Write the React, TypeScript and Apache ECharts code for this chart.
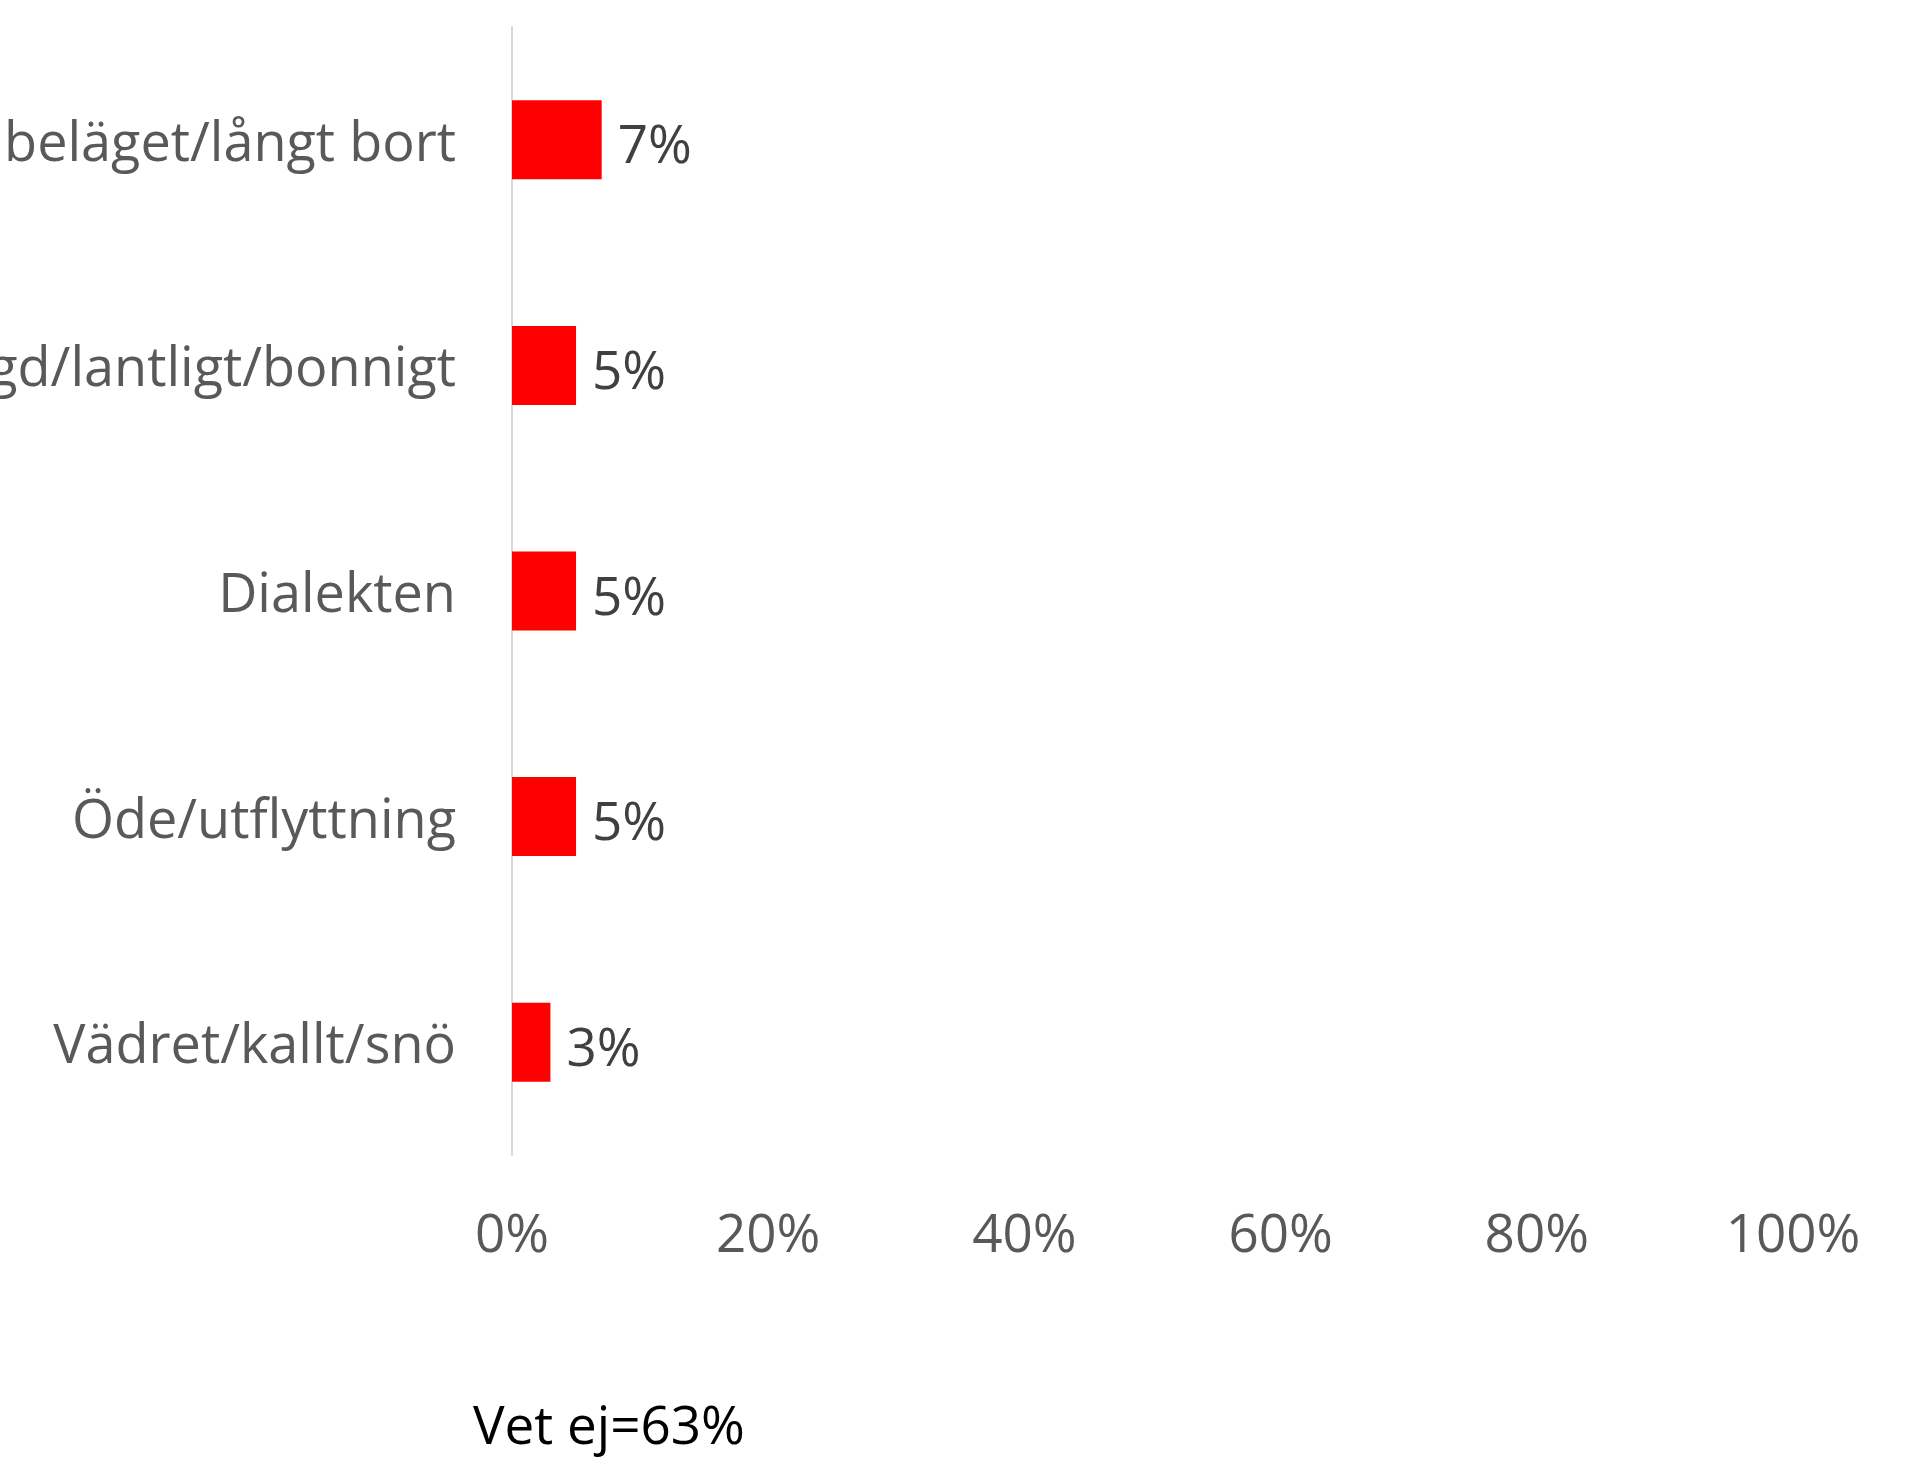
import React, { useEffect, useRef } from "react";
import * as echarts from "echarts";

const categories = [
  "Avsides beläget/långt bort",
  "Glesbygd/lantligt/bonnigt",
  "Dialekten",
  "Öde/utflyttning",
  "Vädret/kallt/snö",
];
const values = [7, 5, 5, 5, 3];
const xTicks = [0, 20, 40, 60, 80, 100];
const footnote = "Vet ej=63%";

const FONT = "'Open Sans', 'Noto Sans', sans-serif";

export default function App() {
  const ref = useRef<HTMLDivElement>(null);
  useEffect(() => {
    if (!ref.current) return;
    const chart = echarts.init(ref.current, null, { renderer: "svg" });
    chart.setOption({
      animation: false,
      backgroundColor: "#ffffff",
      grid: {
        left: 512,
        right: 118,
        top: 27,
        bottom: 306,
        containLabel: false,
        outerBoundsMode: "none",
      },
      xAxis: {
        type: "value",
        min: xTicks[0],
        max: xTicks[xTicks.length - 1],
        interval: 20,
        axisLine: { show: false },
        axisTick: { show: false },
        splitLine: { show: false },
        axisLabel: {
          formatter: (v: number) => `${v}%`,
          color: "#595959",
          fontFamily: FONT,
          fontSize: 53,
          margin: 50,
        },
      },
      yAxis: {
        type: "category",
        data: categories,
        inverse: true,
        axisLine: { show: true, lineStyle: { color: "#d9d9d9", width: 2 } },
        axisTick: { show: false },
        splitLine: { show: false },
        axisLabel: {
          color: "#595959",
          fontFamily: FONT,
          fontSize: 54,
          margin: 56,
        },
      },
      series: [
        {
          type: "bar",
          data: values,
          barWidth: 79,
          itemStyle: { color: "#ff0000" },
          label: {
            show: true,
            position: "right",
            distance: 16,
            formatter: (p: any) => `${p.value}%`,
            color: "#404040",
            fontFamily: FONT,
            fontSize: 53,
            offset: [0, 3],
          },
        },
      ],
      graphic: [
        {
          type: "text",
          left: 608 - 135,
          top: 1430 - 33,
          style: {
            text: footnote,
            fill: "#000000",
            font: `53px ${FONT}`,
          },
        },
      ],
    });
    return () => chart.dispose();
  }, []);
  return (
    <div
      ref={ref}
      style={{ position: "fixed", left: 0, top: 0, width: 1911, height: 1461 }}
    />
  );
}
